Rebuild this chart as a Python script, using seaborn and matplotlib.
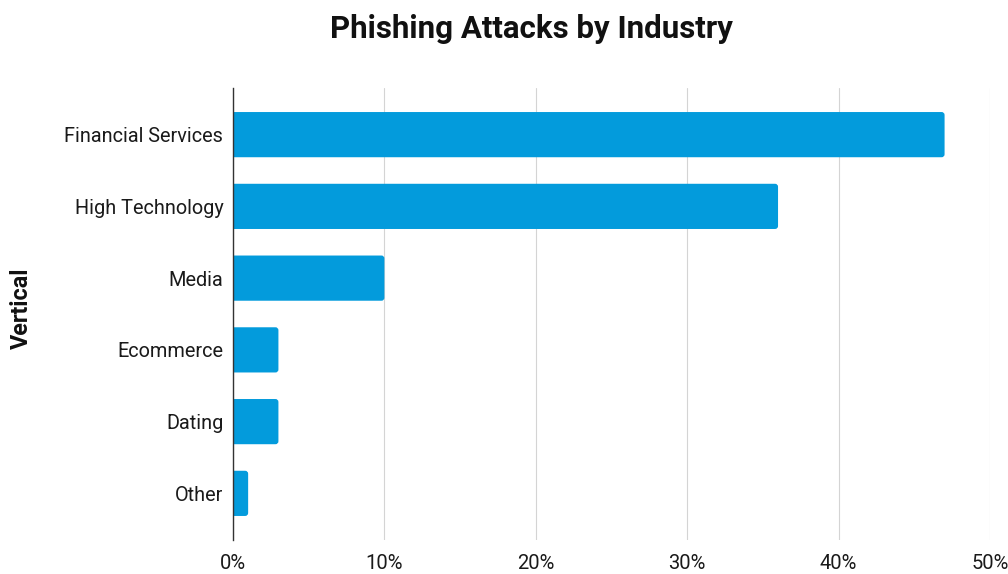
import matplotlib
matplotlib.use("Agg")
import matplotlib.pyplot as plt
from matplotlib.patches import FancyBboxPatch
import seaborn as sns
import pandas as pd

industries = ["Financial Services", "High Technology", "Media", "Ecommerce", "Dating", "Other"]
share_pct = [47, 36, 10, 3, 3, 1]
x_ticks = [0, 10, 20, 30, 40, 50]
x_tick_labels = ["0%", "10%", "20%", "30%", "40%", "50%"]

bar_color = "#039BDC"

sns.set_theme(style="white")
plt.rcParams["font.family"] = ["Roboto", "DejaVu Sans"]

df = pd.DataFrame({"Vertical": industries, "Share": share_pct})

fig = plt.figure(figsize=(10.08, 5.74), dpi=100)
ax = fig.add_axes([233 / 1008, 1 - 540 / 574, (990 - 233) / 1008, (540 - 88) / 574])

sns.barplot(data=df, x="Share", y="Vertical", color=bar_color, width=0.63,
            saturation=1, ax=ax, zorder=3)

ax.set_xlim(0, 50)
ax.set_ylim(5.65, -0.65)

# swap plain bars for ones with softly rounded right-hand corners
px_x = ax.get_position().width * 1008 / 50.0
px_y = ax.get_position().height * 574 / 6.3
radius = 3.0 / px_x
aspect = px_x / px_y
for p in list(ax.patches):
    x0, y0 = p.get_x(), p.get_y()
    w, h = p.get_width(), p.get_height()
    p.remove()
    rb = FancyBboxPatch((x0 - 1.0, y0), w + 1.0, h,
                        boxstyle=f"round,pad=0,rounding_size={radius}",
                        mutation_aspect=aspect, facecolor=bar_color,
                        edgecolor="none", zorder=3, clip_on=True)
    ax.add_patch(rb)

ax.set_xticks(x_ticks)
ax.set_xticklabels(x_tick_labels)
ax.xaxis.grid(True, color="#d4d4d4", linewidth=0.8, zorder=0)
ax.yaxis.grid(False)
for side in ["top", "right", "bottom"]:
    ax.spines[side].set_visible(False)
ax.spines["left"].set_color("#333333")
ax.spines["left"].set_linewidth(1)
ax.spines["left"].set_zorder(4)

ax.tick_params(axis="x", length=0, pad=10, labelsize=14.5, labelcolor="#1a1a1a")
ax.tick_params(axis="y", length=0, pad=7, labelsize=14.3, labelcolor="#1a1a1a")

ax.set_xlabel("")
ax.set_ylabel("Vertical", fontsize=16.8, fontweight="bold", color="#111111")
ax.yaxis.set_label_coords(-200 / 757, 0.513)

fig.suptitle("Phishing Attacks by Industry", x=0.527, y=0.975, fontsize=22.5,
             fontweight="bold", color="#111111")

fig.savefig("out.png", dpi=100, facecolor="white")
